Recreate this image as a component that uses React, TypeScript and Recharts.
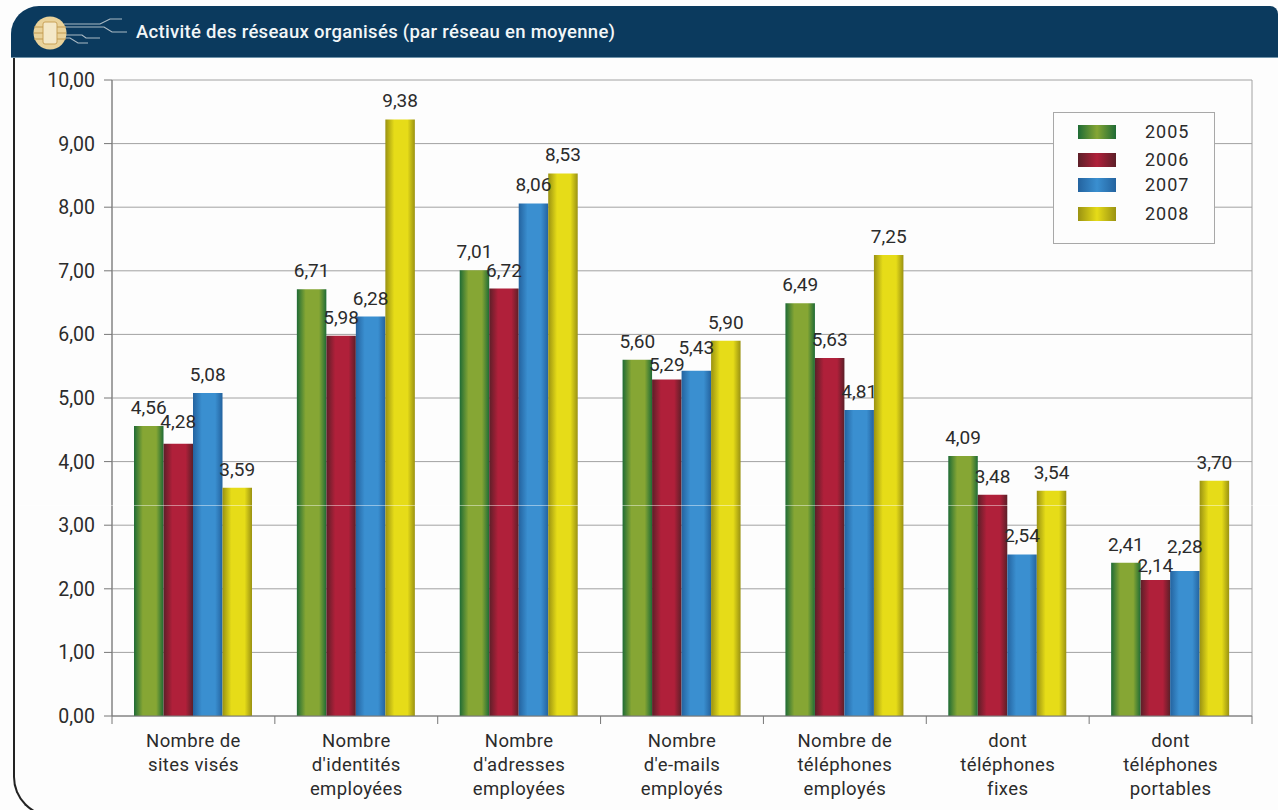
import React from "react";
import { BarChart, Bar, XAxis, YAxis, CartesianGrid, LabelList, Legend } from "recharts";

const categories = [
  ["Nombre de", "sites visés"],
  ["Nombre", "d'identités", "employées"],
  ["Nombre", "d'adresses", "employées"],
  ["Nombre", "d'e-mails", "employés"],
  ["Nombre de", "téléphones", "employés"],
  ["dont", "téléphones", "fixes"],
  ["dont", "téléphones", "portables"],
];
const years = ["2005", "2006", "2007", "2008"];
const values2005 = [4.56, 6.71, 7.01, 5.6, 6.49, 4.09, 2.41];
const values2006 = [4.28, 5.98, 6.72, 5.29, 5.63, 3.48, 2.14];
const values2007 = [5.08, 6.28, 8.06, 5.43, 4.81, 2.54, 2.28];
const values2008 = [3.59, 9.38, 8.53, 5.9, 7.25, 3.54, 3.7];
const yTicks = [0, 1, 2, 3, 4, 5, 6, 7, 8, 9, 10];

// Extra clearance for value labels that would otherwise collide with a neighbour.
const labelLift: Record<string, number[]> = {
  "2005": [0, 0, 0, 0, 0, 0, 0],
  "2006": [4, 0, 0, -3, 0, 0, -4],
  "2007": [0, 0, 0, 5, 0, 0, 6],
  "2008": [0, 0, 0, 0, 0, 0, 0],
};

const rows = categories.map((lines, i) => ({
  name: lines.join(" "),
  lines,
  y2005: values2005[i],
  y2006: values2006[i],
  y2007: values2007[i],
  y2008: values2008[i],
}));

const FONT = "Roboto, 'Noto Sans', sans-serif";
const INK = "#2b2b2b";
const LEFT = 112;
const RIGHT = 1252;
const TOP = 80;
const BOTTOM = 716;
const STEP = (RIGHT - LEFT) / categories.length;

const ramps: Record<string, [string, string]> = {
  "2005": ["#1f6b35", "#86a634"],
  "2006": ["#5c1f28", "#b0203a"],
  "2007": ["#24639f", "#3a8fd0"],
  "2008": ["#9a9212", "#e6dc18"],
};

const comma = (v: unknown) => Number(v).toFixed(2).replace(".", ",");

function CategoryTick({ x, payload, index }: any) {
  const idx = index ?? payload.index;
  const lines: string[] = categories[idx] ?? [];
  const isLast = idx === categories.length - 1;
  return (
    <g>
      <line x1={x - STEP / 2} x2={x - STEP / 2} y1={BOTTOM} y2={BOTTOM + 8} stroke="#777" />
      {isLast && <line x1={x + STEP / 2} x2={x + STEP / 2} y1={BOTTOM} y2={BOTTOM + 8} stroke="#777" />}
      {lines.map((t, i) => (
        <text key={t} x={x} y={BOTTOM + 31 + i * 24} textAnchor="middle" fontSize={18.5} fontFamily={FONT} fill={INK} letterSpacing={0.4}>
          {t}
        </text>
      ))}
    </g>
  );
}

function valueLabel(year: string) {
  return ({ x, y, width, index, value }: any) => (
    <text
      x={Number(x) + Number(width) / 2}
      y={Number(y) - 12 - (labelLift[year][index] ?? 0)}
      textAnchor="middle"
      fontFamily={FONT}
      fontSize={19}
      fill={INK}
    >
      {comma(value)}
    </text>
  );
}

function YearKey() {
  const rowsY = [132, 160, 185, 214];
  return (
    <div style={{ position: "relative", width: 162, height: 132, background: "#fdfdfd", border: "1px solid #a8a8a8", boxSizing: "border-box" }}>
      {years.map((yr, i) => (
        <React.Fragment key={yr}>
          <div
            style={{
              position: "absolute",
              left: 24,
              top: rowsY[i] - 112 - 8,
              width: 38,
              height: 14,
              background: `linear-gradient(90deg, ${ramps[yr][0]}, ${ramps[yr][1]} 50%, ${ramps[yr][0]})`,
            }}
          />
          <div
            style={{
              position: "absolute",
              left: 91,
              top: rowsY[i] - 112 - 13,
              fontFamily: FONT,
              fontSize: 18,
              lineHeight: "24px",
              color: INK,
              letterSpacing: 1,
            }}
          >
            {yr}
          </div>
        </React.Fragment>
      ))}
    </div>
  );
}

function ChipIcon() {
  return (
    <svg width={135} height={56} style={{ position: "absolute", left: 0, top: 0 }}>
      <path
        d="M64 24H100L110 19H122M64 27H104L112 32H127M66 35H82L86 38H100M62 38H70L78 43H88"
        fill="none"
        stroke="#a9b9c4"
        strokeWidth={1.2}
      />
      <circle cx={50} cy={33} r={16.5} fill="#e9d29a" />
      <rect x={43} y={22} width={14} height={22} rx={2} fill="#f4e8c8" stroke="#c9a259" />
      <path d="M34 27H43M34 33H43M34 39H43M57 27H66M57 33H66M57 39H66" stroke="#c09a52" />
    </svg>
  );
}

export default function App() {
  return (
    <div style={{ position: "absolute", left: 0, top: 0, width: 1278, height: 810, background: "#fdfdfd", overflow: "hidden" }}>
      <div
        style={{
          position: "absolute",
          left: 13,
          top: 50,
          width: 1290,
          height: 767,
          borderLeft: "2px solid #222",
          borderBottom: "2px solid #222",
          borderBottomLeftRadius: 40,
          boxSizing: "border-box",
        }}
      />
      <div
        style={{
          position: "absolute",
          left: 11,
          top: 6,
          width: 1267,
          height: 52,
          background: "#0b3a5e",
          borderTopLeftRadius: 28,
          borderTopRightRadius: 8,
          borderBottom: "1px solid #6f93aa",
          boxSizing: "border-box",
        }}
      />
      <ChipIcon />
      <div
        style={{
          position: "absolute",
          left: 136,
          top: 21,
          fontFamily: FONT,
          fontSize: 18.5,
          fontWeight: 500,
          lineHeight: "22px",
          letterSpacing: 0.3,
          color: "#f2f6f8",
          whiteSpace: "nowrap",
        }}
      >
        Activité des réseaux organisés (par réseau en moyenne)
      </div>
      <div style={{ position: "absolute", left: 0, top: 0 }}>
        <BarChart
          width={1278}
          height={810}
          data={rows}
          margin={{ top: TOP, right: 1278 - RIGHT, bottom: 0, left: 0 }}
          barSize={29.5}
          barGap={0}
          style={{ background: "transparent" }}
        >
          <defs>
            {years.map((yr) => (
              <linearGradient key={yr} id={`fill${yr}`} x1="0" x2="1" y1="0" y2="0">
                <stop offset="0" stopColor={ramps[yr][0]} />
                <stop offset="0.3" stopColor={ramps[yr][1]} />
                <stop offset="0.75" stopColor={ramps[yr][1]} />
                <stop offset="1" stopColor={ramps[yr][0]} />
              </linearGradient>
            ))}
          </defs>
          <CartesianGrid
            stroke="#a2a2a2"
            strokeWidth={1}
            verticalCoordinatesGenerator={({ offset }: any) => [offset.left, offset.left + offset.width]}
          />
          <XAxis
            dataKey="name"
            axisLine={{ stroke: "#777" }}
            tickLine={false}
            interval={0}
            height={810 - BOTTOM}
            tick={<CategoryTick />}
          />
          <YAxis
            domain={[0, 10]}
            ticks={yTicks}
            width={LEFT}
            axisLine={{ stroke: "#777" }}
            tickLine={{ stroke: "#777" }}
            tickSize={8}
            tickMargin={9}
            tickFormatter={comma}
            tick={{ fontFamily: FONT, fontSize: 19.5, fill: INK }}
            interval={0}
          />
          <Legend
            layout="vertical"
            align="center"
            verticalAlign="middle"
            wrapperStyle={{ position: "absolute", left: 1053, top: 112, width: 162, height: 132 }}
            content={<YearKey />}
          />
          {years.map((yr) => (
            <Bar key={yr} dataKey={`y${yr}`} name={yr} fill={`url(#fill${yr})`} isAnimationActive={false}>
              <LabelList dataKey={`y${yr}`} content={valueLabel(yr)} />
            </Bar>
          ))}
        </BarChart>
      </div>
      {/* thin pale seam running across the page */}
      <div style={{ position: "absolute", left: 15, top: 505, width: 1263, height: 1, background: "rgba(255,255,255,0.45)" }} />
    </div>
  );
}
